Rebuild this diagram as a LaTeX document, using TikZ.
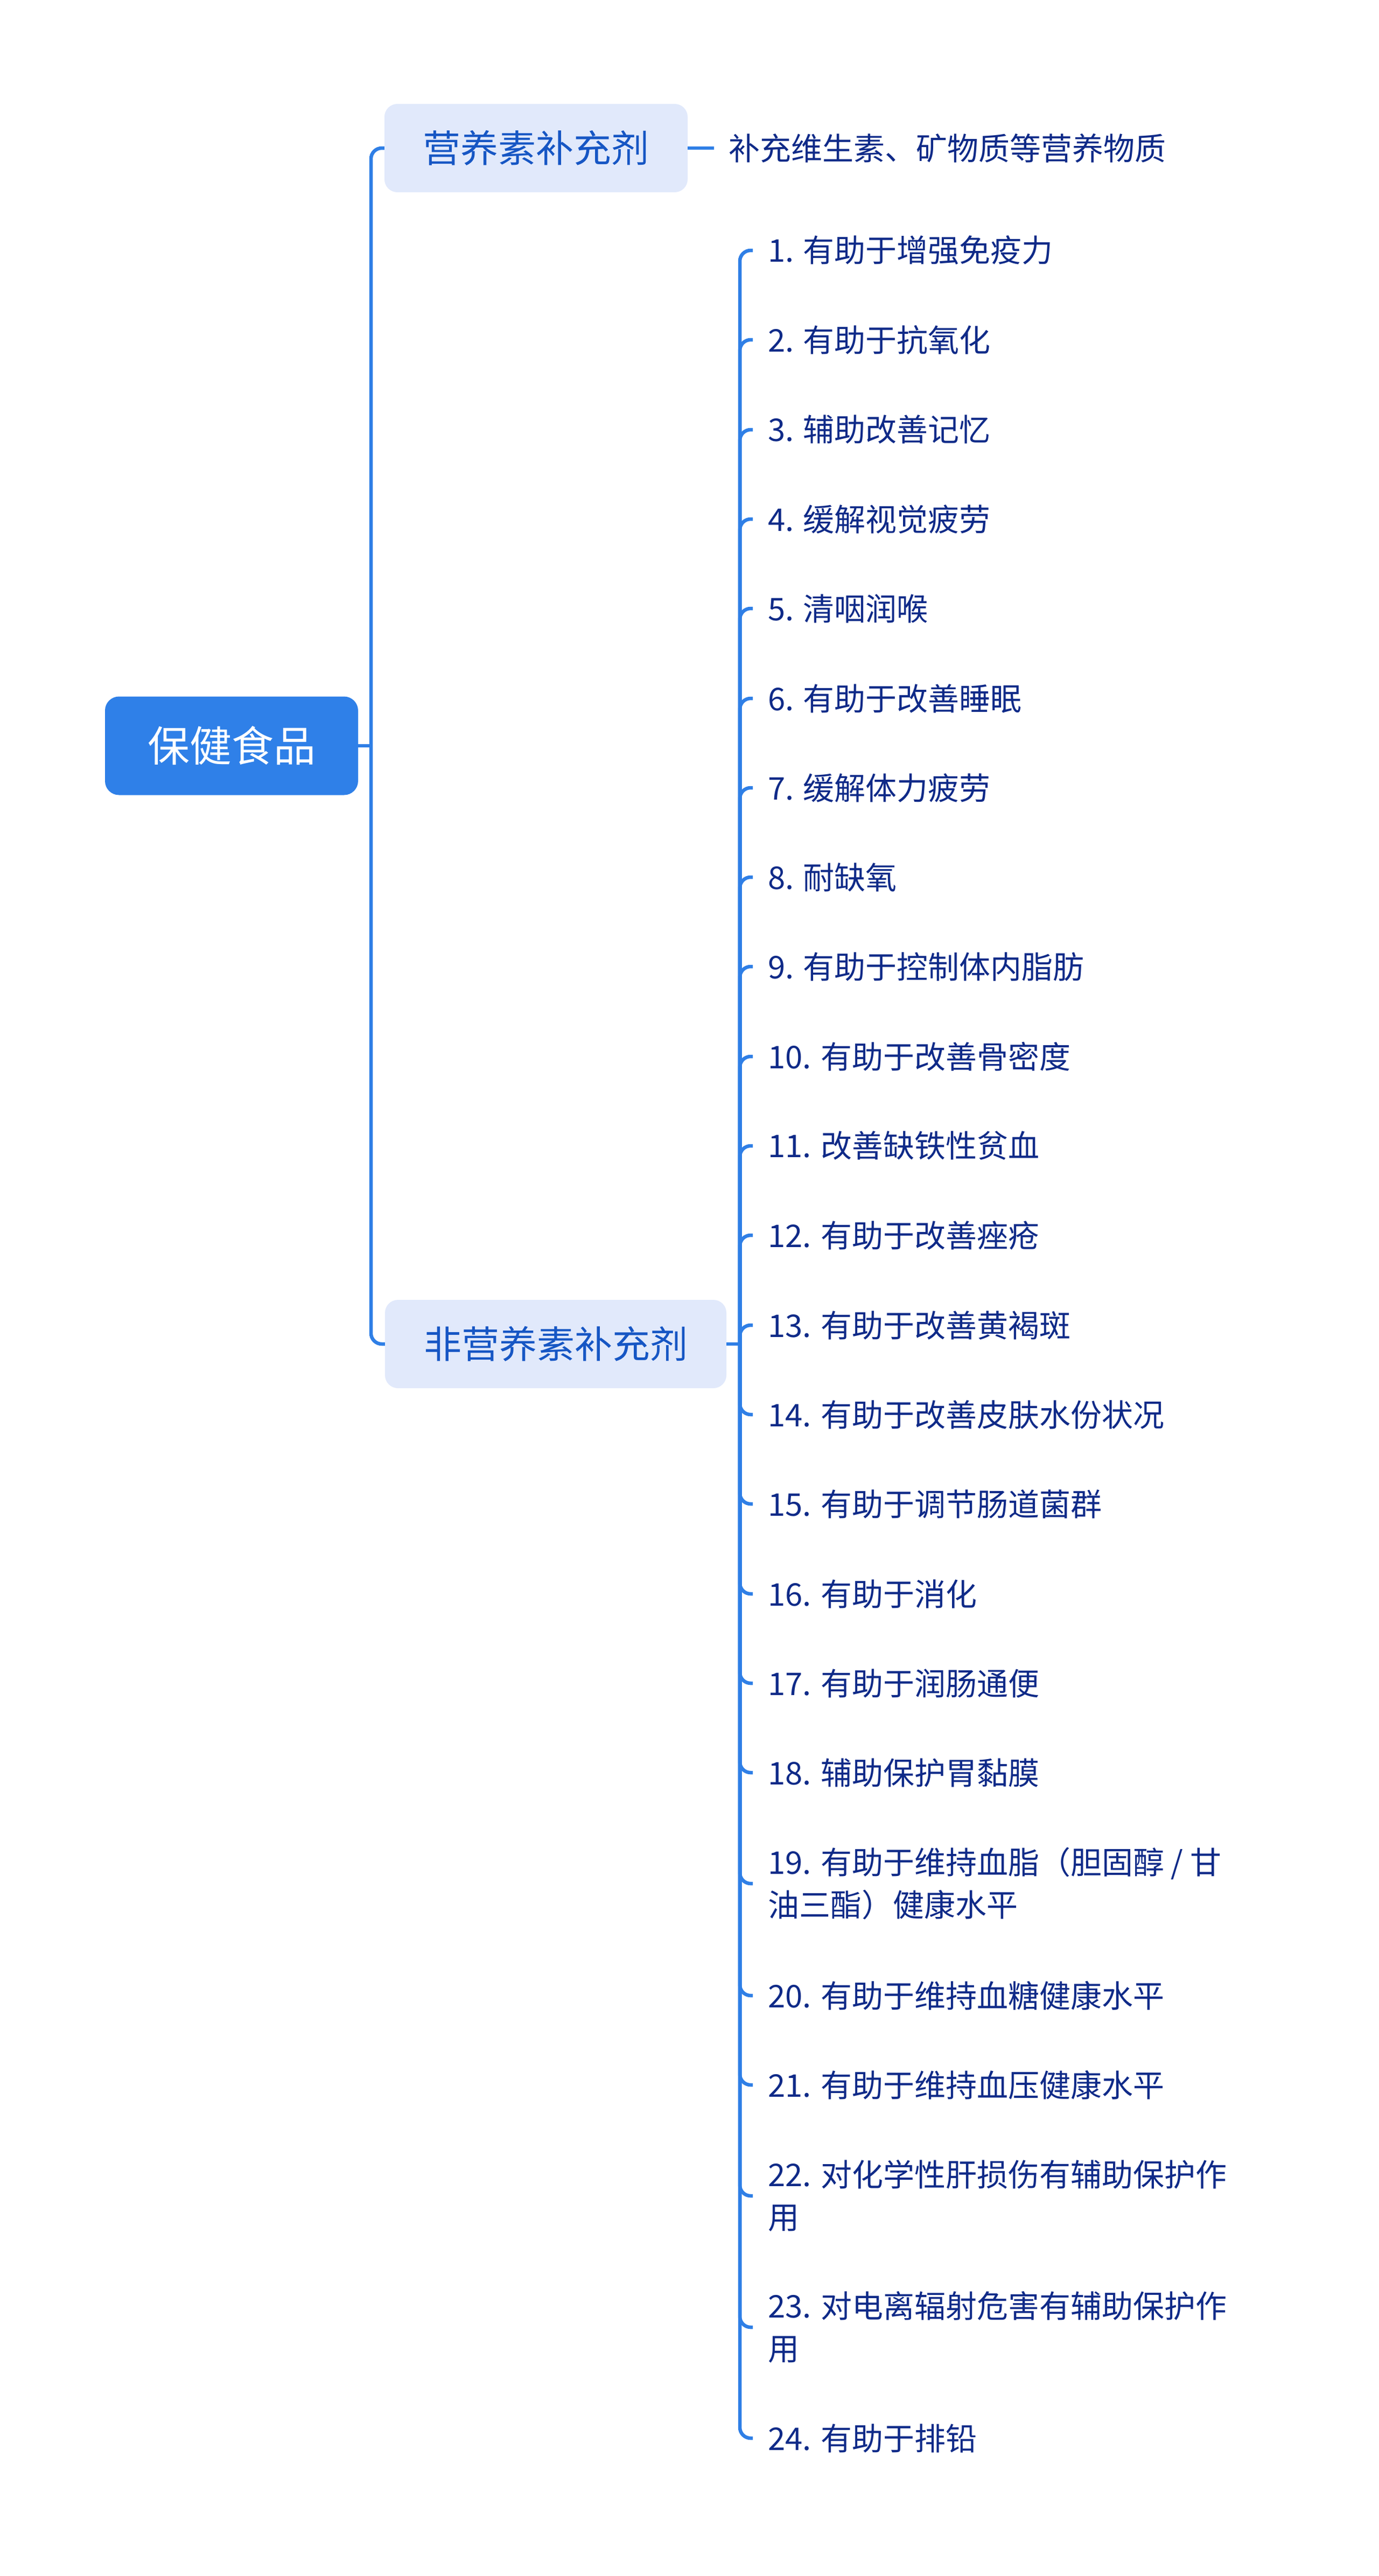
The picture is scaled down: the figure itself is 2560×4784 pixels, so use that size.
\documentclass[tikz,border=0pt]{standalone}
\usepackage{fontspec}
\setmainfont{Noto Sans CJK SC}
\definecolor{rootfill}{HTML}{2F80E8}
\definecolor{brfill}{HTML}{E1E9FB}
\definecolor{brtext}{HTML}{1656C4}
\definecolor{leaftext}{HTML}{0F2A88}
\definecolor{linec}{HTML}{2F7FE6}
\tikzset{
  rootbox/.style={fill=rootfill, rounded corners=26pt, minimum width=470pt, minimum height=183pt, inner sep=0pt, text=white, font=\fontsize{78}{90}\selectfont},
  brbox/.style={fill=brfill, rounded corners=24pt, minimum height=164pt, inner sep=0pt, text=brtext, font=\fontsize{70}{84}\selectfont},
  leaf/.style={anchor=west, inner xsep=28pt, inner ysep=0pt, text=leaftext, align=left, font=\fontsize{58}{79}\selectfont},
  conn/.style={draw=linec, line width=6.5pt},
  hook/.style={draw=linec, line width=6.5pt, rounded corners=20pt}
}
\begin{document}
\begin{tikzpicture}[x=1pt,y=-1pt]
\useasboundingbox (0,0) rectangle (2560,4784);
% root and branches
\node[rootbox] (root) at (430,1385) {保健食品};
\node[brbox, minimum width=563pt] (b1) at (995.5,275) {营养素补充剂};
\node[brbox, minimum width=634pt] (b2) at (1032,2496) {非营养素补充剂};
\coordinate (t1) at (689,1385);
\draw[conn] (root.east) -- (t1);
\draw[hook] (b1.west) -- (689,275) -- (689,2496) -- (b2.west);
% branch 1 leaf
\node[leaf, inner xsep=27pt] (n0) at (1326,275) {补充维生素、矿物质等营养物质};
\draw[conn] (b1.east) -- (n0.west);
% branch 2 leaves
\coordinate (t2) at (1374,2496);
\draw[conn] (b2.east) -- (t2);
\foreach \i/\y/\t in {
 1/465/{1. 有助于增强免疫力},
 2/631/{2. 有助于抗氧化},
 3/798/{3. 辅助改善记忆},
 4/964/{4. 缓解视觉疲劳},
 5/1130/{5. 清咽润喉},
 6/1297/{6. 有助于改善睡眠},
 7/1463/{7. 缓解体力疲劳},
 8/1629/{8. 耐缺氧},
 9/1795/{9. 有助于控制体内脂肪},
 10/1962/{10. 有助于改善骨密度},
 11/2128/{11. 改善缺铁性贫血},
 12/2294/{12. 有助于改善痤疮},
 13/2461/{13. 有助于改善黄褐斑},
 14/2627/{14. 有助于改善皮肤水份状况},
 15/2793/{15. 有助于调节肠道菌群},
 16/2960/{16. 有助于消化},
 17/3126/{17. 有助于润肠通便},
 18/3292/{18. 辅助保护胃黏膜},
 19/3498/{19. 有助于维持血脂（胆固醇 / 甘\\油三酯）健康水平},
 20/3706/{20. 有助于维持血糖健康水平},
 21/3872/{21. 有助于维持血压健康水平},
 22/4078/{22. 对化学性肝损伤有辅助保护作\\用},
 23/4322/{23. 对电离辐射危害有辅助保护作\\用},
 24/4528/{24. 有助于排铅}}{
  \node[leaf] (l\i) at (1398,\y) {\t};
  \draw[hook] (t2) |- (l\i.west);
}
\end{tikzpicture}
\end{document}
